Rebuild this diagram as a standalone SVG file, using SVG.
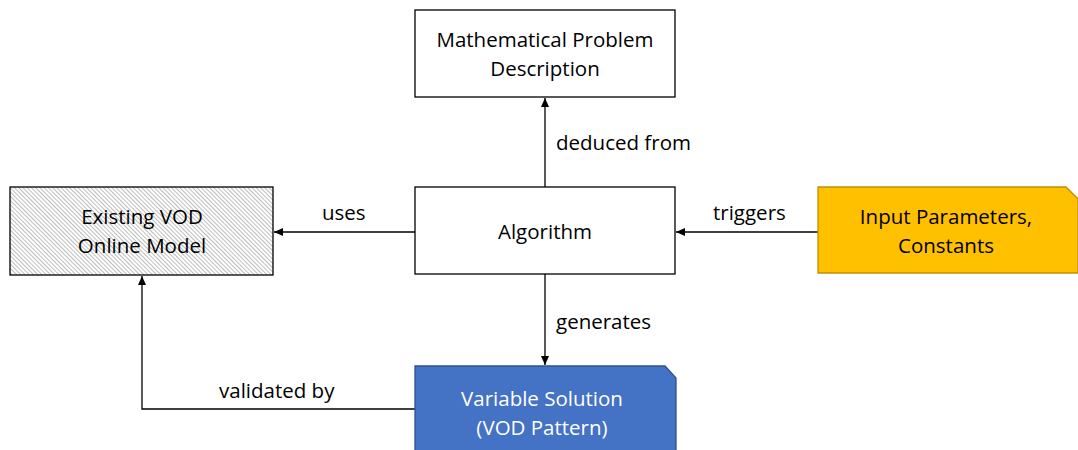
<svg xmlns="http://www.w3.org/2000/svg" width="1078" height="450" viewBox="0 0 1078 450">
<style>
text{font-family:"Open Sans","Liberation Sans",sans-serif;font-size:20.5px;text-anchor:middle;fill:#000}
.box{fill:#fff;stroke:#000;stroke-width:1.3}
.lbl{text-anchor:start}
.w{fill:#fff}
.conn{fill:none;stroke:#000;stroke-width:1.3}
</style>
<defs>
<pattern id="hatch" width="3" height="3" patternUnits="userSpaceOnUse" patternTransform="rotate(-45)">
<rect width="3" height="3" fill="#fff"/>
<line x1="0" y1="0" x2="0" y2="3" stroke="#999" stroke-width="1.3"/>
</pattern>
<marker id="arr" markerWidth="10" markerHeight="10" refX="9" refY="5" orient="auto" markerUnits="userSpaceOnUse">
<path d="M0,1 L9,5 L0,9 Z" fill="#000"/>
</marker>
</defs>
<g id="connectors">
<line class="conn" x1="545" y1="187" x2="545" y2="98" marker-end="url(#arr)"/>
<line class="conn" x1="415" y1="232" x2="274" y2="232" marker-end="url(#arr)"/>
<line class="conn" x1="818" y1="232" x2="676" y2="232" marker-end="url(#arr)"/>
<line class="conn" x1="545" y1="274" x2="545" y2="365" marker-end="url(#arr)"/>
<polyline class="conn" points="415,409 142,409 142,276" marker-end="url(#arr)"/>
<text class="lbl" x="556" y="150">deduced from</text>
<text class="lbl" x="322" y="220">uses</text>
<text class="lbl" x="713" y="220">triggers</text>
<text class="lbl" x="556" y="329">generates</text>
<text class="lbl" x="219" y="398">validated by</text>
</g>
<g id="math">
<rect class="box" x="415" y="10" width="260" height="87"/>
<text x="545" y="47">Mathematical Problem</text>
<text x="545" y="76">Description</text>
</g>
<g id="existing">
<rect x="10" y="187" width="263" height="88" fill="url(#hatch)" stroke="#000" stroke-width="1.3"/>
<text x="142" y="224">Existing VOD</text>
<text x="142" y="253">Online Model</text>
</g>
<g id="algorithm">
<rect class="box" x="415" y="187" width="260" height="87"/>
<text x="545" y="239">Algorithm</text>
</g>
<g id="input">
<path d="M818,187 L1066,187 L1078,199 L1078,273 L818,273 Z" fill="#FFC000" stroke="#BF9000" stroke-width="1.3"/>
<text x="946" y="224">Input Parameters,</text>
<text x="946" y="253">Constants</text>
</g>
<g id="variable">
<path d="M415,366 L665,366 L676,378 L676,451 L415,451 Z" fill="#4472C4" stroke="#2F528F" stroke-width="1.3"/>
<text class="w" x="542" y="406">Variable Solution</text>
<text class="w" x="542" y="435">(VOD Pattern)</text>
</g>
</svg>
